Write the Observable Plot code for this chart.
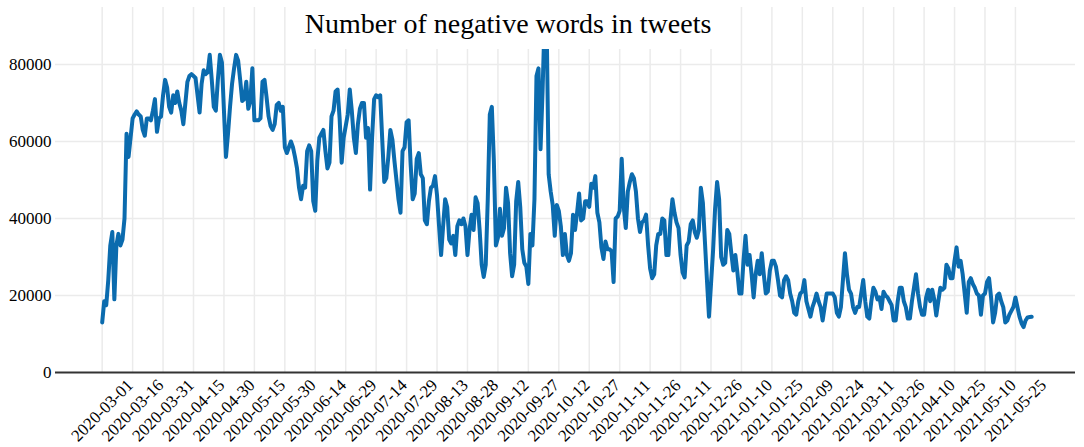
<!DOCTYPE html>
<html><head><meta charset="utf-8">
<script src="https://cdn.jsdelivr.net/npm/d3@7"></script>
<script src="https://cdn.jsdelivr.net/npm/@observablehq/plot@0.6"></script>
<style>
body{margin:0;background:#fff;}
#wrap{position:relative;width:1084px;height:447px;}
#wrap svg{display:block;}
#title{position:absolute;left:293px;top:7px;width:430px;height:42px;background:#fff;font-family:"Liberation Serif",serif;font-size:28px;text-align:center;line-height:33px;color:#000;}
</style></head><body>
<div id="wrap"><div id="title">Number of negative words in tweets</div></div>
<script>
const startDate = "2020-03-01";
const counts = [
13000,18500,17500,24000,33000,36500,19000,33000,36000,33000,34500,40000,62000,56000,61000,
66000,67000,67800,67000,66500,63000,61500,66000,66000,65500,68000,71000,62500,66000,66500,
72000,76000,74000,69000,67500,72000,70000,73000,70000,68000,64500,70000,75500,77000,77500,
77000,76500,72000,67500,75000,78500,77500,78000,82500,76000,69000,68000,76000,82500,80500,
68000,56000,62000,69000,75000,79000,82500,81000,76000,70500,71000,75500,68500,70500,79000,
65500,65500,65500,66000,75500,76000,71500,66500,64000,63000,64500,69500,70000,68000,69000,
58500,57000,58500,60000,58500,56000,53000,48000,45000,48500,48000,57500,59000,57500,44500,
42000,55000,61000,62000,63000,57500,53000,54500,66500,68000,73000,73500,66000,54500,61000,
64000,67000,73500,68000,61000,57000,64500,68500,70000,70000,61000,63500,47500,61000,71000,
72000,71500,72000,60500,49500,50500,56000,63000,60500,55000,50000,45000,41500,57500,58500,
65000,65500,54000,45000,46500,55500,57000,51500,50500,39500,38500,44500,48000,48500,51000,
46000,38000,30500,38000,45000,43000,34500,33500,35500,30500,38000,39500,38500,40000,38000,
30500,37000,41000,37000,45500,44000,37000,28000,24800,28000,45000,67000,69000,55000,33000,
35000,42500,35500,37500,48000,44000,31000,25000,28000,44500,49500,43000,32000,28500,27500,
23000,36000,33000,45000,77000,79000,58000,73000,92000,91000,51500,47000,43500,35500,43500,
42000,38000,30500,36000,30500,29000,31000,41000,37000,41500,46500,39500,40000,44500,44500,
43000,49000,48000,51000,41500,39000,32500,29500,34000,32000,32000,31500,23500,40000,40500,
42000,55500,43000,37500,47000,49500,51500,50500,47000,40000,36500,39000,39500,41000,33000,
27000,24500,25500,33000,36000,36000,40000,39500,30500,30500,39500,45000,41500,39000,37500,
30500,26000,24700,33000,34000,38500,39500,36500,35000,37000,48000,44000,34000,24000,14500,
23000,31500,42500,49500,45000,30000,28000,28500,37000,36000,31000,26500,30500,26000,20500,
20500,29000,35500,28000,30500,25500,19500,25500,29000,25500,31000,25500,20500,21000,26500,
29000,29000,27500,24000,20000,19500,24000,25000,24000,20500,18500,15500,15000,18500,20500,
21000,24000,18500,16500,14500,17000,18500,20500,18500,17000,13500,17000,20500,20500,20500,
20500,19500,15500,14500,17000,24000,31000,25500,21500,20500,17000,15500,17000,17000,20500,
24000,18500,14500,14000,18500,22000,21000,19000,19500,16500,21000,20000,19500,18500,17500,
13500,13500,18500,22000,22000,18500,17000,14000,14000,18500,22000,25500,20500,17000,15000,
15000,19500,21500,18500,21500,19000,14800,18500,22000,21500,22000,28000,27000,24500,24500,
29000,32500,27500,29000,25500,20500,15500,23500,24500,23000,22000,20500,20000,15000,20000,
20500,23500,24500,19500,13000,15500,20000,20500,18500,17000,13000,13500,15000,16000,17000,
19500,17000,14500,12800,11800,13500,14300,14400,14500
];
const tickLabels = [
"2020-03-01","2020-03-16","2020-03-31","2020-04-15","2020-04-30","2020-05-15","2020-05-30",
"2020-06-14","2020-06-29","2020-07-14","2020-07-29","2020-08-13","2020-08-28","2020-09-12",
"2020-09-27","2020-10-12","2020-10-27","2020-11-11","2020-11-26","2020-12-11","2020-12-26",
"2021-01-10","2021-01-25","2021-02-09","2021-02-24","2021-03-11","2021-03-26","2021-04-10",
"2021-04-25","2021-05-10","2021-05-25"
];
const yTicks = [0, 20000, 40000, 60000, 80000];

const parse = d3.utcParse("%Y-%m-%d");
const t0 = parse(startDate);
const series = counts.map((v, i) => ({date: d3.utcDay.offset(t0, i), value: v}));
const tickDates = tickLabels.map(parse);

const chart = Plot.plot({
  width: 1084, height: 447,
  marginLeft: 55, marginRight: 9, marginTop: 7, marginBottom: 75,
  style: {fontFamily: "Liberation Serif", fontSize: "17px", background: "#fff", color: "#000"},
  x: {type: "utc", domain: [new Date(+t0 - 23 * 864e5), new Date(+t0 + 479.6 * 864e5)], axis: null},
  y: {domain: [0, 94800], axis: null},
  marks: [
    Plot.ruleX(tickDates, {stroke: "#ebebeb", strokeWidth: 1.5}),
    Plot.ruleY(yTicks.filter(d => d > 0), {stroke: "#ebebeb", strokeWidth: 1.5}),
    Plot.ruleY([0], {stroke: "#333", strokeWidth: 1.8}),
    Plot.line(series, {x: "date", y: "value", stroke: "#0b6bae", strokeWidth: 4, strokeLinejoin: "round"}),
    Plot.axisY(yTicks, {tickSize: 0, tickPadding: 4, tickFormat: d => String(d), fontSize: 17, fill: "#000", label: null}),
    Plot.text(tickLabels, {x: d => parse(d), text: d => d, frameAnchor: "bottom", dy: 38, rotate: -45,
      textAnchor: "middle", lineAnchor: "middle", fontSize: 17, fill: "#000"})
  ]
});
document.getElementById("wrap").prepend(chart);
</script>
</body></html>
